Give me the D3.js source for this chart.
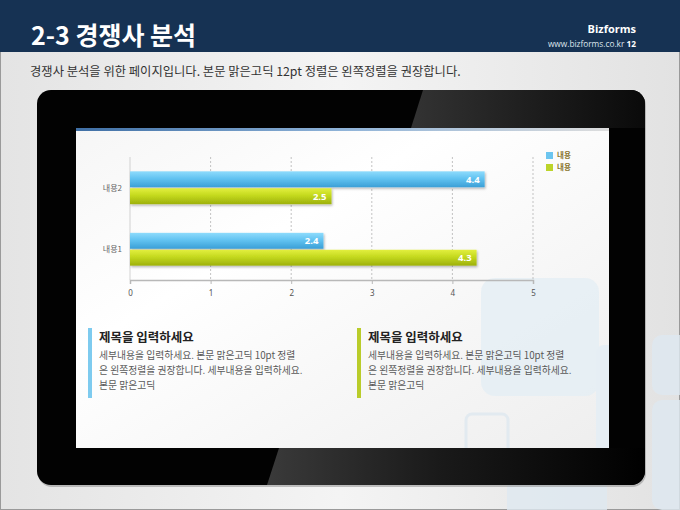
<!DOCTYPE html>
<html>
<head>
<meta charset="utf-8">
<script src="https://cdn.jsdelivr.net/npm/d3@7"></script>
<style>
  html, body { margin: 0; padding: 0; background: #fff; }
  svg { display: block; font-family: "Noto Sans CJK KR", "Noto Sans", sans-serif; }
</style>
</head>
<body>
<div id="stage"></div>
<script>
// chart values
const categories = ["내용2", "내용1"];
const seriesNames = ["내용", "내용"];
const seriesA = [4.4, 2.4];   // blue
const seriesB = [2.5, 4.3];   // green
const xTicks = [0, 1, 2, 3, 4, 5];

const pageTitle = "2-3 경쟁사 분석";
const subTitle = "경쟁사 분석을 위한 페이지입니다. 본문 맑은고딕 12pt 정렬은 왼쪽정렬을 권장합니다.";
const boxTitles = ["제목을 입력하세요", "제목을 입력하세요"];
const boxLines = [
  "세부내용을 입력하세요. 본문 맑은고딕 10pt 정렬",
  "은 왼쪽정렬을 권장합니다. 세부내용을 입력하세요.",
  "본문 맑은고딕"
];

const W = 680, H = 510;
const svg = d3.select("#stage").append("svg").attr("width", W).attr("height", H);
const defs = svg.append("defs");

function linGrad(id, stops, x2, y2) {
  const g = defs.append("linearGradient").attr("id", id)
    .attr("x1", 0).attr("y1", 0).attr("x2", x2).attr("y2", y2);
  stops.forEach(s => g.append("stop").attr("offset", s[0]).attr("stop-color", s[1]).attr("stop-opacity", s[2] == null ? 1 : s[2]));
}
linGrad("pageBg", [[0, "#e4e4e4"], [0.5, "#f4f4f4"], [1, "#e2e2e2"]], 1, 0);
linGrad("screenBg", [[0, "#f6f6f6"], [0.35, "#ffffff"], [1, "#eeeeee"]], 1, 1);
linGrad("topGlare", [[0, "#333333"], [0.6, "#1a1a1a"], [1, "#0a0a0a"]], 1, 0);
linGrad("botGlare", [[0, "#3a3a3a"], [0.45, "#1a1a1a"], [1, "#000000"]], 1, 0);
linGrad("topLine", [[0, "#3f6fa5"], [0.5, "#8fb3d8"], [1, "#dddddd"]], 1, 0);
linGrad("blueBar", [[0, "#8edbfc"], [0.45, "#62c3f1"], [1, "#3b9fd6"]], 0, 1);
linGrad("greenBar", [[0, "#e2ef3e"], [0.45, "#c4d91e"], [1, "#9db00c"]], 0, 1);

const shadow = defs.append("filter").attr("id", "barShadow")
  .attr("x", "-5%").attr("y", "-20%").attr("width", "115%").attr("height", "160%");
shadow.append("feDropShadow").attr("dx", 1).attr("dy", 1.5).attr("stdDeviation", 1.2)
  .attr("flood-color", "#000").attr("flood-opacity", 0.28);

// page background
svg.append("rect").attr("width", W).attr("height", H).attr("fill", "url(#pageBg)");
svg.append("rect").attr("x", 0.5).attr("y", 0.5).attr("width", W - 1).attr("height", H - 1)
  .attr("fill", "none").attr("stroke", "#9a9a9a");

// faint decoration squares behind the tablet
const deco = svg.append("g").attr("fill", "#dfe9f1").attr("opacity", 0.8);
deco.append("rect").attr("x", 652).attr("y", 335).attr("width", 40).attr("height", 60).attr("rx", 10);
deco.append("rect").attr("x", 652).attr("y", 400).attr("width", 40).attr("height", 110).attr("rx", 10);
deco.append("rect").attr("x", 507).attr("y", 480).attr("width", 100).attr("height", 40).attr("rx", 8);

// header band
svg.append("rect").attr("width", W).attr("height", 52).attr("fill", "#163253");
svg.append("text").attr("x", 31).attr("y", 45).attr("fill", "#fff")
  .attr("font-size", 25).attr("font-weight", "bold").text(pageTitle);
svg.append("text").attr("x", 636).attr("y", 33).attr("text-anchor", "end").attr("fill", "#fff")
  .attr("font-size", 11).attr("font-weight", "bold").attr("font-family", "Open Sans, sans-serif").text("Bizforms");
const url = svg.append("text").attr("x", 636).attr("y", 47).attr("text-anchor", "end")
  .attr("fill", "#dfe6ee").attr("font-size", 8.3).attr("font-family", "Open Sans, sans-serif");
url.append("tspan").text("www.bizforms.co.kr  ");
url.append("tspan").attr("font-weight", "bold").attr("fill", "#fff").text(" 12");

svg.append("text").attr("x", 30).attr("y", 76).attr("fill", "#333")
  .attr("font-size", 12.3).text(subTitle);

// tablet body
const tab = { x: 37, y: 90, w: 608, h: 395, r: 14 };
defs.append("clipPath").attr("id", "tabClip").append("rect")
  .attr("x", tab.x).attr("y", tab.y).attr("width", tab.w).attr("height", tab.h).attr("rx", tab.r);
svg.append("rect").attr("x", tab.x + 1).attr("y", tab.y + 2).attr("width", tab.w).attr("height", tab.h)
  .attr("rx", tab.r).attr("fill", "#888").attr("opacity", 0.5);
const body = svg.append("g").attr("clip-path", "url(#tabClip)");
body.append("rect").attr("x", tab.x).attr("y", tab.y).attr("width", tab.w).attr("height", tab.h).attr("fill", "#020202");
body.append("path").attr("d", "M423,90 L645,90 L645,128 L411,128 Z").attr("fill", "url(#topGlare)");
body.append("path").attr("d", "M279,448 L645,448 L645,485 L267,485 Z").attr("fill", "url(#botGlare)");

// screen
const scr = { x: 76, y: 128, w: 533, h: 320 };
svg.append("rect").attr("x", scr.x).attr("y", scr.y).attr("width", scr.w).attr("height", scr.h).attr("fill", "url(#screenBg)");
defs.append("clipPath").attr("id", "scrClip").append("rect")
  .attr("x", scr.x).attr("y", scr.y).attr("width", scr.w).attr("height", scr.h);
const sdeco = svg.append("g").attr("clip-path", "url(#scrClip)");
sdeco.append("rect").attr("x", 481).attr("y", 278).attr("width", 118).attr("height", 118).attr("rx", 14)
  .attr("fill", "#e3edf4").attr("opacity", 0.75);
sdeco.append("rect").attr("x", 466).attr("y", 414).attr("width", 42).attr("height", 50).attr("rx", 6)
  .attr("fill", "none").attr("stroke", "#e2eaf0").attr("stroke-width", 3);
sdeco.append("rect").attr("x", 596).attr("y", 345).attr("width", 30).attr("height", 120).attr("rx", 8)
  .attr("fill", "#e6eef4");
svg.append("rect").attr("x", scr.x).attr("y", scr.y).attr("width", scr.w).attr("height", 3).attr("fill", "url(#topLine)");

// chart
const x = d3.scaleLinear().domain([0, 5]).range([130, 533]);
const y = d3.scaleBand().domain(categories).range([157, 280]).paddingInner(0.45).paddingOuter(0.225);
const ySub = d3.scaleBand().domain(["a", "b"]).range([0, y.bandwidth()]);
const rows = categories.map((c, i) => ({ cat: c, a: seriesA[i], b: seriesB[i] }));

const chart = svg.append("g");
chart.append("g").selectAll("line").data(xTicks).join("line")
  .attr("x1", d => x(d)).attr("x2", d => x(d)).attr("y1", 157).attr("y2", 280)
  .attr("stroke", d => d === 0 ? "#c8c8c8" : "#b4b4b4").attr("stroke-width", 0.8)
  .attr("stroke-dasharray", d => d === 0 ? null : "2,2");

const xAxis = chart.append("g").attr("transform", "translate(0,280)")
  .call(d3.axisBottom(x).tickValues(xTicks).tickSize(4).tickFormat(d3.format("d")));
xAxis.select(".domain").attr("stroke", "#b8b8b8").attr("stroke-width", 1.5);
xAxis.selectAll(".tick line").attr("stroke", "#b8b8b8");
xAxis.selectAll("text").attr("fill", "#555").attr("font-size", 8).attr("dy", "1.1em")
  .attr("font-family", "Noto Sans, sans-serif");

chart.append("g").selectAll("text").data(categories).join("text")
  .attr("x", 122).attr("y", d => y(d) + y.bandwidth() / 2).attr("dy", "0.35em")
  .attr("text-anchor", "end").attr("fill", "#666").attr("font-size", 8).text(d => d);

const groups = chart.append("g").selectAll("g").data(rows).join("g")
  .attr("transform", d => `translate(0,${y(d.cat)})`);
const bars = [
  { key: "a", fill: "url(#blueBar)" },
  { key: "b", fill: "url(#greenBar)" }
];
bars.forEach(b => {
  groups.append("rect")
    .attr("x", x(0)).attr("y", ySub(b.key) + 0.5)
    .attr("width", d => x(d[b.key]) - x(0)).attr("height", ySub.bandwidth() - 1)
    .attr("fill", b.fill).attr("filter", "url(#barShadow)");
  groups.append("text")
    .attr("x", d => x(d[b.key]) - 5).attr("y", ySub(b.key) + ySub.bandwidth() / 2).attr("dy", "0.36em")
    .attr("text-anchor", "end").attr("fill", "#fff").attr("font-weight", "bold").attr("font-size", 9.5)
    .attr("font-family", "Open Sans, sans-serif").text(d => d[b.key]);
});

// legend
const legColors = ["#6cc5ef", "#bcd42a"];
const leg = chart.append("g").selectAll("g").data(seriesNames).join("g")
  .attr("transform", (d, i) => `translate(546,${152 + i * 12})`);
leg.append("rect").attr("width", 7).attr("height", 7).attr("fill", (d, i) => legColors[i]);
leg.append("text").attr("x", 11).attr("y", 3.5).attr("dy", "0.35em").attr("font-size", 7.5)
  .attr("fill", "#8a7630").attr("font-weight", "bold").text(d => d);

// text boxes under the chart
const boxColors = ["#7ecbef", "#b9cc2a"];
const boxX = [88, 357];
boxX.forEach((bx, i) => {
  const g = svg.append("g").attr("transform", `translate(${bx},0)`);
  g.append("rect").attr("x", 0).attr("y", 328).attr("width", 4).attr("height", 70).attr("fill", boxColors[i]);
  g.append("text").attr("x", 11).attr("y", 342).attr("font-size", 12.5).attr("font-weight", "bold")
    .attr("fill", "#222").text(boxTitles[i]);
  g.selectAll("text.line").data(boxLines).join("text").attr("class", "line")
    .attr("x", 11).attr("y", (d, j) => 359 + j * 15).attr("font-size", 9.8)
    .attr("fill", "#5a5a5a").text(d => d);
});
</script>
</body>
</html>
